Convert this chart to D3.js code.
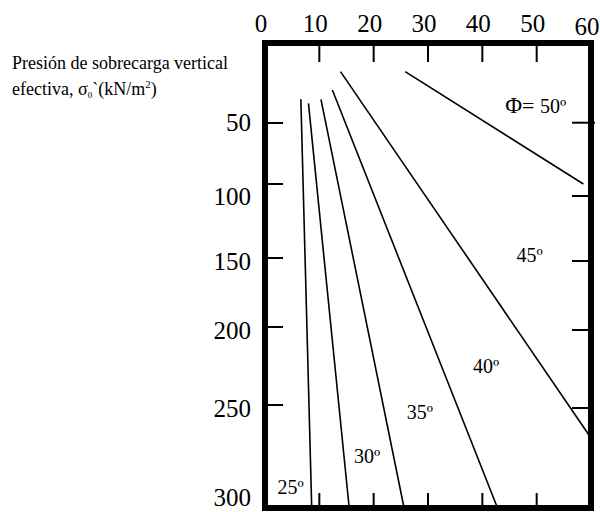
<!DOCTYPE html>
<html><head><meta charset="utf-8">
<script src="https://cdn.jsdelivr.net/npm/d3@7"></script>
<style>body{margin:0;background:#fff}svg{display:block}</style>
</head><body>
<script>
// ---- data ----
const xTicks = [0, 10, 20, 30, 40, 50, 60];
const yTicks = [0, 50, 100, 150, 200, 250, 300];
const yTickLabels = [50, 100, 150, 200, 250, 300];
// each friction-angle line: [x, y] start and end (x: chart top axis, y: effective pressure kN/m2)
const lineAngles = [25, 30, 35, 40, 45, 50];
const lineStartX = [6.6, 8.0, 10.3, 12.4, 13.9, 25.8];
const lineStartY = [35.2, 37.7, 35.2, 29.4, 17.9, 17.9];
const lineEndX = [8.6, 15.5, 25.6, 42.8, 60, 58.6];
const lineEndY = [300, 300, 300, 300, 266, 100];
// angle annotation labels
const labelText = ["25º", "30º", "35º", "40º", "45º"];
const labelX = [2.3, 16.4, 26.1, 38.3, 46.3];
const labelY = [293.2, 278.2, 256.8, 229.5, 152.7];
const phiLabelX = 44.2, phiLabelY = 43.6;

const W = 600, H = 512;
const serif = "'Liberation Serif','Times New Roman',serif";
const svg = d3.select("body").append("svg").attr("width", W).attr("height", H);

const x = d3.scaleLinear().domain([0, 60]).range([265, 591]);
// scanned figure: axis spacing is not uniform, piecewise scales follow it
const yL = d3.scaleLinear().domain(yTicks).range([43, 123, 184, 258, 327, 405, 508]);
const yR = d3.scaleLinear().domain(yTicks).range([43, 122.7, 196, 261, 330, 408, 497]);

// lines
const lineGen = d3.line().x(d => x(d[0])).y(d => yL(d[1]));
const lines = lineAngles.map((a, i) => [[lineStartX[i], lineStartY[i]], [lineEndX[i], lineEndY[i]]]);
svg.append("g").selectAll("path").data(lines).join("path")
  .attr("d", lineGen).attr("fill", "none").attr("stroke", "#000").attr("stroke-width", 1.6);

// inner ticks
const tg = svg.append("g").attr("stroke", "#000").attr("stroke-width", 2);
const innerX = xTicks.slice(1, -1);
tg.selectAll(".tt").data(innerX).join("line")
  .attr("x1", d => x(d)).attr("x2", d => x(d)).attr("y1", 43).attr("y2", 62);
tg.selectAll(".tb").data(innerX).join("line")
  .attr("x1", d => x(d)).attr("x2", d => x(d)).attr("y1", 508).attr("y2", 493);
const innerY = yTicks.slice(1, -1);
tg.selectAll(".tl").data(innerY).join("line")
  .attr("x1", x(0)).attr("x2", x(0) + 18).attr("y1", d => yL(d)).attr("y2", d => yL(d));
tg.selectAll(".tr").data(innerY).join("line")
  .attr("x1", x(60) - 19).attr("x2", (d, i) => i === 0 ? x(60) + 4 : x(60)).attr("y1", d => yR(d)).attr("y2", d => yR(d));

// frame
svg.append("rect").attr("x", x(0)).attr("y", yL(0)).attr("width", x(60) - x(0)).attr("height", yL(300) - yL(0))
  .attr("fill", "none").attr("stroke", "#000").attr("stroke-width", 6);

// top axis labels
svg.append("g").selectAll("text").data(xTicks).join("text")
  .attr("x", d => x(d) - 4).attr("y", d => d === 60 ? 35 : 32)
  .attr("text-anchor", "middle").attr("font-family", serif).attr("font-size", 25).text(d => d);

// left axis labels
svg.append("g").selectAll("text").data(yTickLabels).join("text")
  .attr("x", 251).attr("y", d => yR(d)).attr("dy", "0.34em")
  .attr("text-anchor", "end").attr("font-family", serif).attr("font-size", 25).text(d => d);

// y axis title
const t1 = svg.append("text").attr("font-family", serif).attr("font-size", 18);
t1.append("tspan").attr("x", 12).attr("y", 69).text("Presión de sobrecarga vertical");
const t2 = svg.append("text").attr("font-family", serif).attr("font-size", 18).attr("x", 12).attr("y", 95);
t2.append("tspan").text("efectiva, σ");
t2.append("tspan").attr("font-size", 9).attr("dy", 3).text("0");
t2.append("tspan").attr("dy", -3).text("`(kN/m");
t2.append("tspan").attr("font-size", 11).attr("dy", -7).text("2");
t2.append("tspan").attr("dy", 7).text(")");

// angle labels
svg.append("g").selectAll("text").data(labelText).join("text")
  .attr("x", (d, i) => x(labelX[i])).attr("y", (d, i) => yL(labelY[i]))
  .attr("font-family", serif).attr("font-size", 20).text(d => d);
const phi = svg.append("text").attr("x", x(phiLabelX)).attr("y", yL(phiLabelY)).attr("font-family", serif);
phi.append("tspan").attr("font-size", 23).text("Φ");
phi.append("tspan").attr("font-size", 22).text("= ");
phi.append("tspan").attr("font-size", 20).text("50º");
</script>
</body></html>
